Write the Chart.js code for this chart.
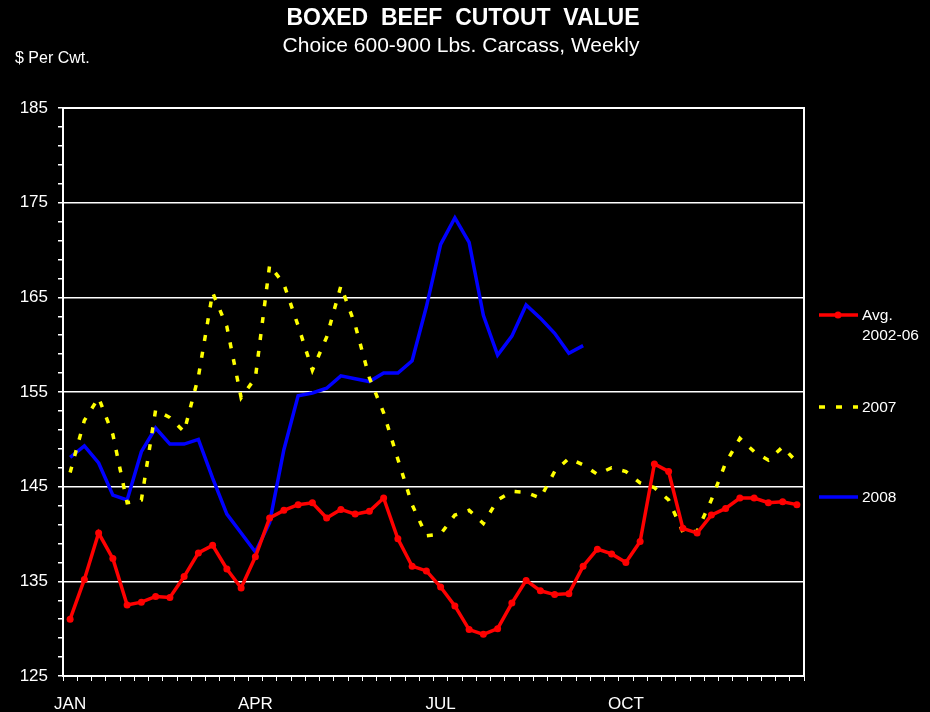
<!DOCTYPE html>
<html>
<head>
<meta charset="utf-8">
<script src="https://cdn.jsdelivr.net/npm/chart.js@4.4.0/dist/chart.umd.min.js"></script>
<style>
  html, body { margin: 0; padding: 0; background: #000; }
  #wrap { width: 930px; height: 712px; }
</style>
</head>
<body>
<div id="wrap"><canvas id="c" width="930" height="712"></canvas></div>
<script>
// weekly values, $ per cwt (52 weeks)
const avg0206 = [131.0, 135.2, 140.1, 137.4, 132.5, 132.8, 133.4, 133.3, 135.5, 138.0,
  138.8, 136.3, 134.3, 137.6, 141.7, 142.5, 143.1, 143.3, 141.7, 142.6,
  142.1, 142.4, 143.8, 139.5, 136.6, 136.1, 134.4, 132.4, 129.9, 129.4,
  130.0, 132.7, 135.1, 134.0, 133.6, 133.7, 136.6, 138.4, 137.9, 137.0,
  139.2, 147.4, 146.6, 140.6, 140.1, 142.0, 142.7, 143.8, 143.8, 143.3,
  143.4, 143.1];
const y2007 = [146.5, 152.0, 154.4, 150.5, 143.3, 143.6, 153.1, 152.3, 150.8, 156.6,
  165.5, 161.9, 154.4, 156.5, 168.4, 166.4, 162.0, 157.3, 160.8, 166.2,
  162.1, 156.5, 152.8, 147.9, 143.1, 139.8, 140.0, 142.0, 142.5, 141.1,
  143.6, 144.5, 144.4, 143.8, 146.6, 148.0, 147.3, 146.3, 147.0, 146.6,
  145.4, 144.9, 143.6, 140.2, 140.3, 143.6, 147.5, 150.1, 148.7, 147.8,
  149.2, 147.6];
const y2008 = [148.1, 149.3, 147.5, 144.1, 143.6, 148.7, 151.2, 149.5, 149.5, 150.0,
  145.9, 142.1, 140.1, 138.1, 141.2, 148.9, 154.6, 154.9, 155.4, 156.7,
  156.4, 156.1, 157.0, 157.0, 158.3, 164.0, 170.6, 173.4, 170.8, 163.1,
  158.9, 160.9, 164.2, 162.8, 161.2, 159.1, 159.9];

const monthLabels = ['JAN', 'APR', 'JUL', 'OCT'];
const monthWeeks = [0, 13, 26, 39];
const yMin = 125, yMax = 185, yMajor = 10, yMinor = 2;

const weeks = avg0206.map((v, i) => {
  const k = monthWeeks.indexOf(i);
  return k >= 0 ? monthLabels[k] : '';
});

const FONT = '"Liberation Sans", Arial, sans-serif';

// title, subtitle, unit label, frame and the right-hand legend
const decor = {
  id: 'decor',
  beforeDatasetsDraw(chart) {
    const { ctx, chartArea: a } = chart;
    ctx.save();
    ctx.strokeStyle = '#ffffff';
    ctx.lineWidth = 2;
    ctx.strokeRect(a.left, a.top, a.right - a.left, a.bottom - a.top);
    ctx.restore();
  },
  afterDraw(chart) {
    const ctx = chart.ctx;
    ctx.save();
    ctx.fillStyle = '#ffffff';
    ctx.textAlign = 'center';
    ctx.textBaseline = 'middle';
    ctx.font = 'bold 23px ' + FONT;
    ctx.fillText('BOXED  BEEF  CUTOUT  VALUE', 463, 19);
    ctx.font = '21px ' + FONT;
    ctx.fillText('Choice 600-900 Lbs. Carcass, Weekly', 461, 46);
    ctx.textAlign = 'left';
    ctx.font = '16px ' + FONT;
    ctx.fillText('$ Per Cwt.', 15, 59);

    // legend
    const items = [
      { ds: chart.data.datasets[0], y: 315, lines: ['Avg.', '2002-06'] },
      { ds: chart.data.datasets[1], y: 407, lines: ['2007'] },
      { ds: chart.data.datasets[2], y: 497, lines: ['2008'] }
    ];
    items.forEach(it => {
      ctx.strokeStyle = it.ds.borderColor;
      ctx.lineWidth = it.ds.borderWidth;
      ctx.setLineDash(it.ds.borderDash || []);
      ctx.beginPath();
      ctx.moveTo(819, it.y);
      ctx.lineTo(858, it.y);
      ctx.stroke();
      ctx.setLineDash([]);
      if (it.ds.pointRadius > 0) {
        ctx.fillStyle = it.ds.pointBackgroundColor;
        ctx.beginPath();
        ctx.arc(838, it.y, it.ds.pointRadius, 0, Math.PI * 2);
        ctx.fill();
      }
      ctx.fillStyle = '#ffffff';
      ctx.font = '15.5px ' + FONT;
      it.lines.forEach((t, j) => ctx.fillText(t, 862, it.y + 1 + j * 20));
    });
    ctx.restore();
  }
};

new Chart(document.getElementById('c'), {
  type: 'line',
  data: {
    labels: weeks,
    datasets: [
      {
        label: 'Avg. 2002-06',
        data: avg0206,
        borderColor: '#ff0000',
        backgroundColor: '#ff0000',
        pointBackgroundColor: '#ff0000',
        pointBorderColor: '#ff0000',
        borderWidth: 3.5,
        pointRadius: 3.5,
        pointBorderWidth: 0,
        tension: 0
      },
      {
        label: '2007',
        data: y2007,
        borderColor: '#ffff00',
        borderWidth: 3.5,
        borderDash: [6, 11],
        pointRadius: 0,
        tension: 0
      },
      {
        label: '2008',
        data: y2008,
        borderColor: '#0000ff',
        borderWidth: 3.5,
        pointRadius: 0,
        tension: 0
      }
    ]
  },
  options: {
    responsive: false,
    animation: false,
    events: [],
    layout: { padding: { left: 0, top: 108, right: 126, bottom: 0 } },
    plugins: {
      legend: { display: false },
      title: { display: false },
      tooltip: { enabled: false }
    },
    scales: {
      x: {
        type: 'category',
        offset: true,
        grid: {
          offset: true,
          color: 'rgba(0,0,0,0)',
          tickColor: '#ffffff',
          tickLength: 5,
          lineWidth: 1
        },
        border: { display: true, color: '#ffffff', width: 2 },
        ticks: {
          color: '#ffffff',
          autoSkip: false,
          maxRotation: 0,
          padding: 13,
          font: { family: FONT, size: 17 }
        },
        afterFit(s) { s.height = 36; }
      },
      y: {
        min: yMin,
        max: yMax,
        grid: {
          color: c => ((c.tick.value - yMin) % yMajor === 0 && c.tick.value !== yMin && c.tick.value !== yMax) ? '#ffffff' : 'rgba(0,0,0,0)',
          tickColor: '#ffffff',
          tickLength: 5,
          lineWidth: 1.5
        },
        border: { display: true, color: '#ffffff', width: 2 },
        ticks: {
          stepSize: yMinor,
          maxTicksLimit: 40,
          autoSkip: false,
          color: '#ffffff',
          padding: 10,
          font: { family: FONT, size: 17 },
          callback: v => ((v - yMin) % yMajor === 0 ? String(v) : '')
        },
        afterFit(s) { s.width = 63; }
      }
    }
  },
  plugins: [decor]
});
</script>
</body>
</html>
